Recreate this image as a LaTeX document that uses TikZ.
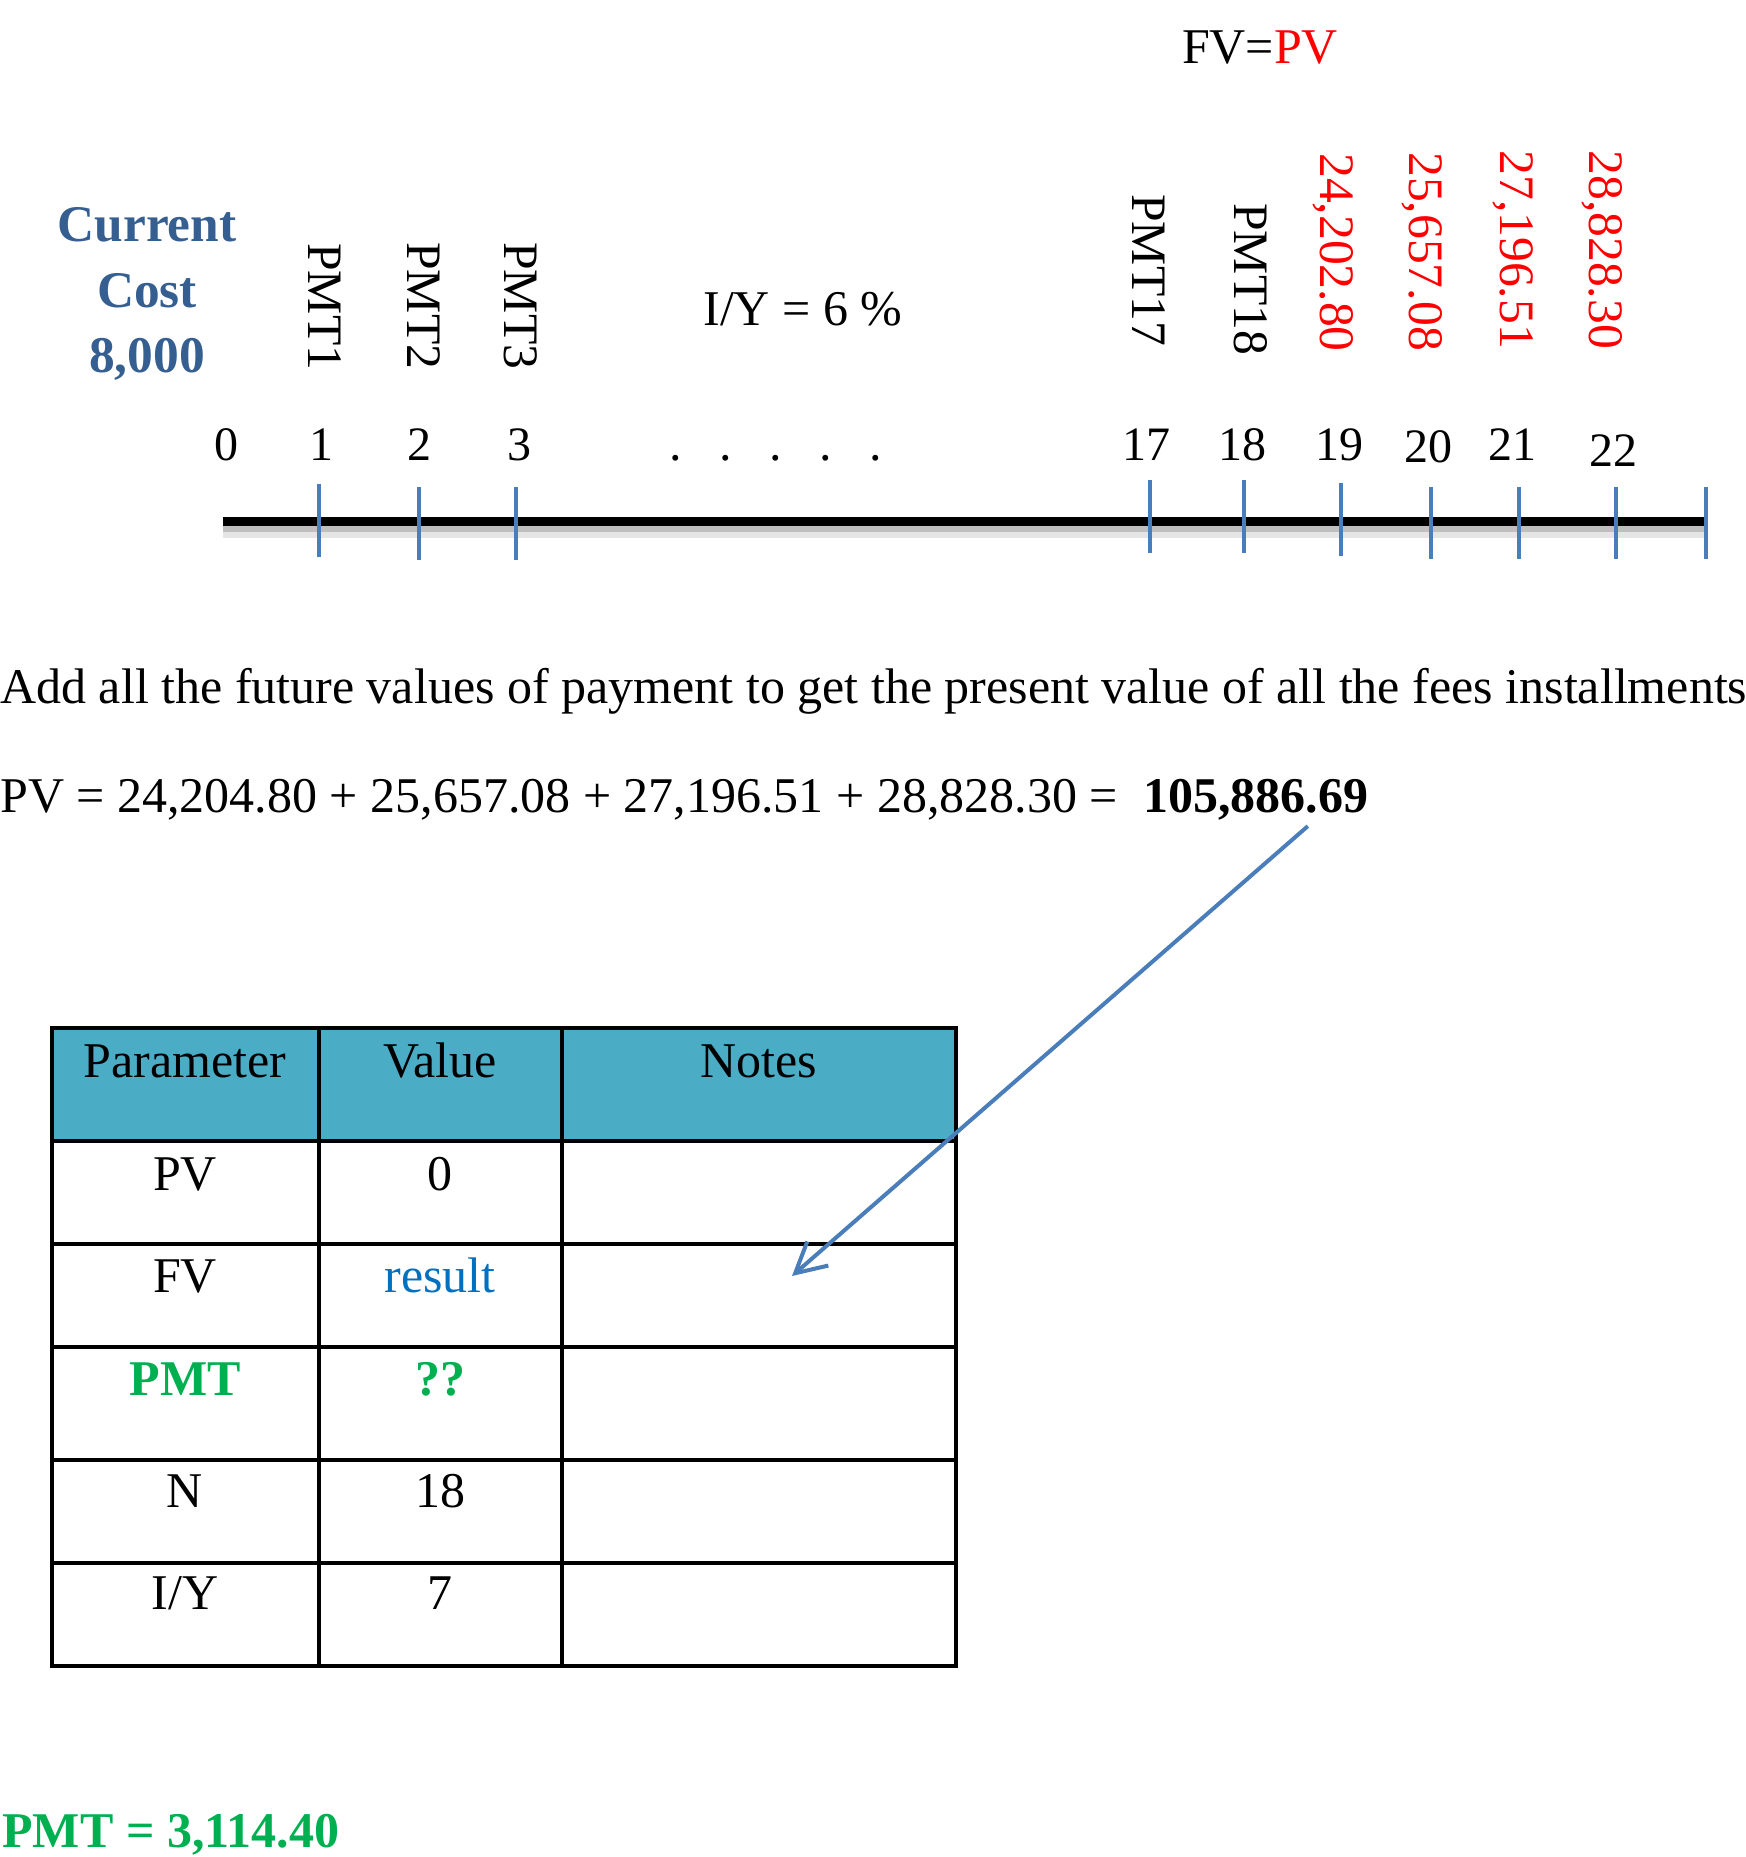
\documentclass[tikz,border=0pt]{standalone}
\usepackage{fontspec}
\setmainfont{Liberation Serif}
\usepackage{xcolor}
\usetikzlibrary{arrows.meta}

\definecolor{costblue}{HTML}{365F91}
\definecolor{tickblue}{HTML}{4A7EBB}
\definecolor{headaqua}{HTML}{4BACC6}
\definecolor{resultblue}{HTML}{0070C0}
\definecolor{okgreen}{HTML}{00B050}

\newcommand{\mainsize}{\fontsize{25}{30}\selectfont}

\begin{document}
\begin{tikzpicture}[
  x=0.5pt, y=-0.5pt,
  every node/.style={inner sep=0pt, font=\mainsize},
  txt/.style={anchor=base west},
  num/.style={anchor=base, font=\fontsize{24}{28}\selectfont},
  turned/.style={rotate=-90, anchor=base west, font=\fontsize{24.8}{28}\selectfont},
  cell/.style={anchor=base},
  tickmark/.style={tickblue, line width=2pt},
  grid/.style={black, line width=2.2pt},
  pointer/.style={-{Straight Barb[length=15pt, width=16pt]}, tickblue, line width=2pt},
]

\useasboundingbox (0,0) rectangle (1745,1857);

% time line with its soft shadow
\coordinate (t0) at (223,521);
\coordinate (tend) at (1706,521);
\draw[black!10, line width=9pt] ([yshift=-4pt]t0) -- ([yshift=-4pt]tend);
\draw[black!25, line width=5pt] ([yshift=-3pt]t0) -- ([yshift=-3pt]tend);
\draw[line width=4.5pt] (t0) -- (tend);

\foreach \x/\a/\b in {319/484/557, 419/487/560, 516/487/560, 1150/480/553,
    1244/480/553, 1341/483/556, 1431/487/559, 1519/487/559, 1616/487/559, 1706/487/559}
  \draw[tickmark] (\x,\a) -- (\x,\b);

% period numbers
\foreach \x/\y/\n in {226/460/0, 321/460/1, 419/460/2, 519/460/3, 1146/460/17,
    1242/460/18, 1339/460/19, 1428/462/20, 1512/460/21, 1613/466/22}
  \node[num] (n\n) at (\x,\y) {\n};
\node[txt] (dots) at (669,460) {.\hspace{0.75em}.\hspace{0.75em}.\hspace{0.75em}.\hspace{0.75em}.};

% payments and future values
\node[turned] (p1) at (308,243) {PMT1};
\node[turned] (p2) at (407,242) {PMT2};
\node[turned] (p3) at (504,242) {PMT3};
\node[turned] (p17) at (1132,194) {PMT17};
\node[turned] (p18) at (1234,203) {PMT18};
\node[turned, text=red] (f19) at (1320,153) {24,202.80};
\node[turned, text=red] (f20) at (1409,152) {25,657.08};
\node[turned, text=red] (f21) at (1500,150) {27,196.51};
\node[turned, text=red] (f22) at (1589,150) {28,828.30};

\node[font=\fontsize{25.7}{32.75}\selectfont\bfseries, text=costblue, align=center]
  (cost) at (147,294) {Current\\Cost\\8,000};
\node[anchor=base] (fvpv) at (1260,64) {FV=\textcolor{red}{PV}};
\node[txt] (rate) at (703,325) {I/Y = 6 \%};

% explanation
\node[txt, font=\fontsize{25}{30}\selectfont] (explain) at (0,703)
  {Add all the future values of payment to get the present value of all the fees installments};
\node[txt] (sum) at (0,812) {PV = 24,204.80 + 25,657.08 + 27,196.51 + 28,828.30 = \ };
\node[txt, font=\mainsize\bfseries] (total) at (1143,812) {105,886.69};

% parameter table
\fill[headaqua] (52,1028) rectangle (956,1141);
\draw[grid] (52,1028) rectangle (956,1666);
\foreach \y in {1141,1244,1347,1460,1563}
  \draw[grid] (52,\y) -- (956,\y);
\foreach \x in {319,562}
  \draw[grid] (\x,1028) -- (\x,1666);

\node[cell] (hpar) at (185,1077) {Parameter};
\node[cell] (hval) at (440,1077) {Value};
\node[cell] (hnote) at (759,1077) {Notes};
\node[cell] (pv) at (185,1190) {PV};
\node[cell] (pvval) at (440,1190) {0};
\node[cell] (fv) at (185,1292) {FV};
\node[cell, text=resultblue] (fvval) at (440,1292) {result};
\node[cell, text=okgreen, font=\mainsize\bfseries] (pmt) at (185,1395) {PMT};
\node[cell, text=okgreen, font=\mainsize\bfseries] (pmtval) at (440,1395) {??};
\node[cell] (nper) at (185,1507) {N};
\node[cell] (nval) at (440,1507) {18};
\node[cell] (iy) at (185,1609) {I/Y};
\node[cell] (iyval) at (440,1609) {7};

% arrow from the sum into the table
\coordinate (fvnote) at (792,1276);
\draw[pointer] ([xshift=-30.5pt,yshift=-3pt]total.south east) -- (fvnote);

\node[txt, font=\mainsize\bfseries, text=okgreen] (answer) at (2,1847) {PMT = 3,114.40};

\end{tikzpicture}
\end{document}
